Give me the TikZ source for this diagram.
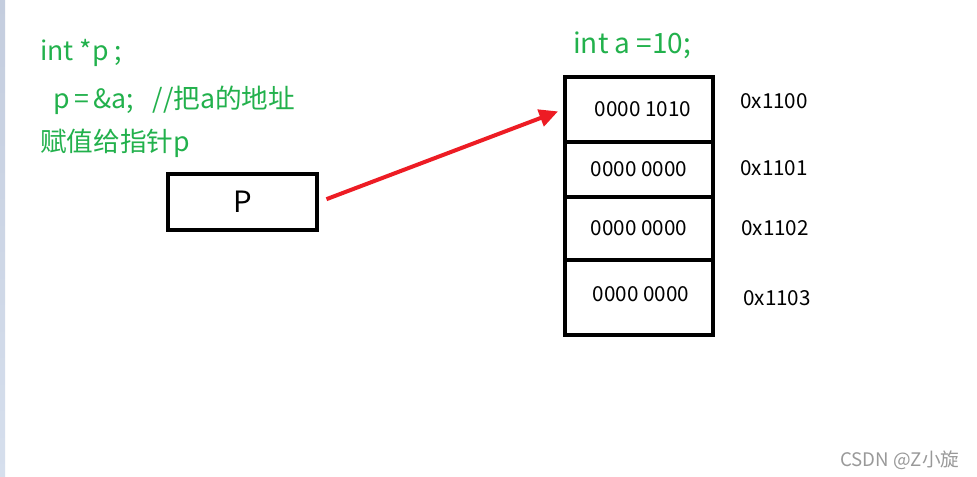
\documentclass[tikz,border=0pt]{standalone}
\usepackage{fontspec}
\setmainfont{Noto Sans CJK SC}
\usetikzlibrary{arrows.meta}
\definecolor{codegreen}{RGB}{34,177,76}
\definecolor{ptrred}{RGB}{237,28,36}
\begin{document}
\begin{tikzpicture}[x=0.75pt,y=-0.75pt,
    code/.style={text=codegreen,font=\fontsize{20}{24}\selectfont,anchor=west,inner sep=0pt},
    cell/.style={draw,line width=3pt,minimum width=111pt,anchor=north west,inner sep=0pt,font=\fontsize{15.5}{18}\selectfont},
    addr/.style={font=\fontsize{15.5}{18}\selectfont,anchor=west,inner sep=0pt}]
  \useasboundingbox[fill=white] (0,0) rectangle (977,477);
  \shade[top color={rgb,255:red,196;green,205;blue,222},bottom color={rgb,255:red,214;green,223;blue,237}] (0,0) rectangle (5,477);

  % code on the left
  \node[code] (decl) at (40,53) {int *p ;};
  \node[code] (assign) at (53,100) {p\,=\,\&a;\hspace{14pt}//把a的地址};
  \node[code] (assigntail) at (40,143) {赋值给指针p};

  % pointer variable
  \node[draw,line width=3pt,minimum width=111.75pt,minimum height=42pt,font=\fontsize{22}{26}\selectfont] (pbox) at (242.5,202) {P};

  % memory of a
  \node[code,font=\fontsize{21}{24}\selectfont] (vardecl) at (573,45) {int a =10;};
  \node[cell,minimum height=48.75pt] (cell0) at (563,75) {\hspace{6pt}0000 1010};
  \node[cell,minimum height=41.25pt] (cell1) at (563,140) {0000 0000};
  \node[cell,minimum height=47.25pt] (cell2) at (563,195) {0000 0000};
  \node[cell,minimum height=56.25pt] (cell3) at (563,258) {\raisebox{6pt}{\hspace{3pt}0000 0000}};

  \node[addr] (addr0) at (740,101) {0x1100};
  \node[addr] (addr1) at (740,168) {0x1101};
  \node[addr] (addr2) at (741,228) {0x1102};
  \node[addr] (addr3) at (743,298) {0x1103};

  \draw[ptrred,line width=3pt,-{Triangle[length=14pt,width=13pt]},shorten <=6pt,shorten >=4pt] (pbox.east) -- (cell0.west);

  \node[text=black!40,font=\fontsize{14}{16}\selectfont,anchor=west,inner sep=0pt] (mark) at (840,460) {CSDN @Z小旋};
\end{tikzpicture}
\end{document}
